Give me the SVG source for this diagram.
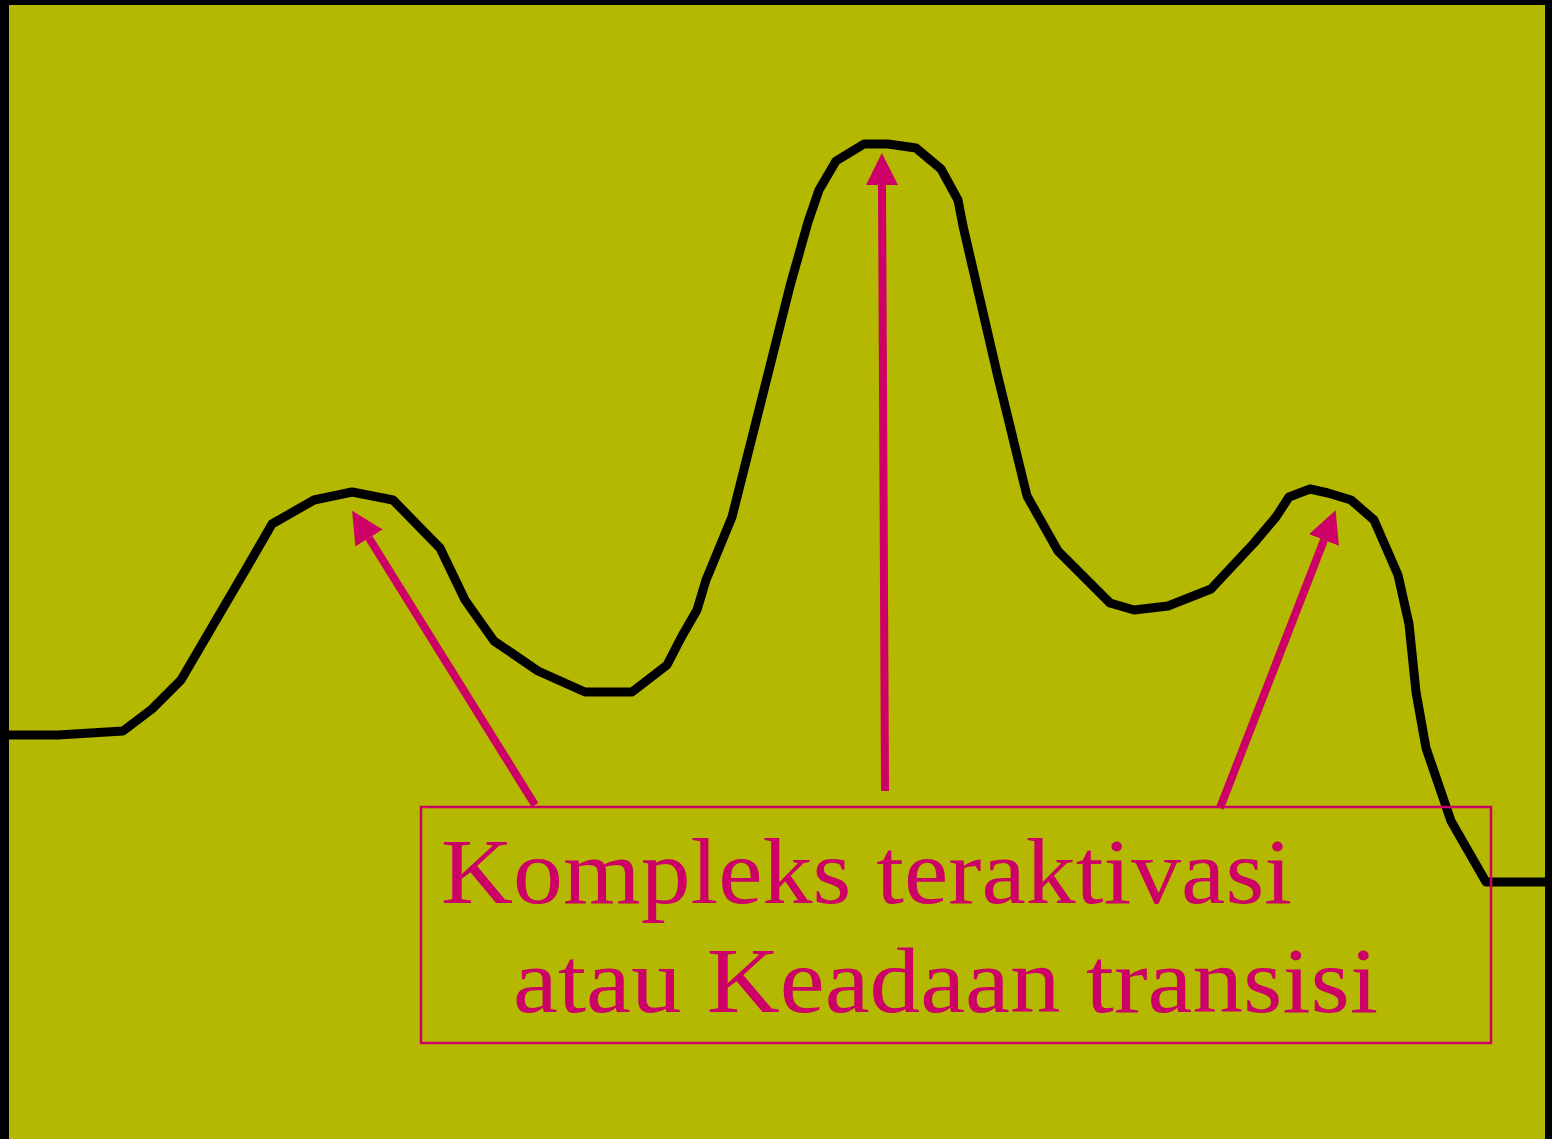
<svg xmlns="http://www.w3.org/2000/svg" width="1552" height="1139" viewBox="0 0 1552 1139">
<style>
.curve{fill:none;stroke:#000;stroke-width:9;stroke-linejoin:round}
.arr{stroke:#cc0066;stroke-width:8;fill:none}
.lbl{font-family:"Liberation Serif","DejaVu Serif",serif;font-size:94px;fill:#cc0066}
</style>
<defs>
<marker id="ah" markerUnits="userSpaceOnUse" markerWidth="32" markerHeight="32" viewBox="0 0 10 10" refX="0" refY="5" orient="auto">
<path d="M0,0 L10,5 L0,10 z" fill="#cc0066"/>
</marker>
</defs>
<rect x="0" y="0" width="1552" height="1139" fill="#000"/>
<rect x="9" y="5" width="1536" height="1134" fill="#b4b800"/>
<g id="curve">
<polyline class="curve" points="9,735 58,735 123,731 152,709 181,680 246,569 272,524 314,500 352,492 393,500 440,548 465,600 494,641 538,671 585,692 632,692 667,665 682,636 697,610 706,580 732,517 771,362 790,286 808,222 819,190 836,161 864,144 888,144 916,148 941,169 958,200 963,226 997,373 1027,496 1058,551 1110,603 1134,610 1168,606 1211,589 1254,543 1276,517 1289,497 1310,489 1328,493 1351,500 1374,520 1398,575 1409,624 1416,692 1426,748 1451,821 1486,882 1545,882"/>
</g>
<g id="connectors">
<line class="arr" x1="535" y1="805" x2="369" y2="538" marker-end="url(#ah)"/>
<line class="arr" x1="885" y1="791" x2="882" y2="185" marker-end="url(#ah)"/>
<line class="arr" x1="1220" y1="808" x2="1324" y2="540" marker-end="url(#ah)"/>
</g>
<g id="label">
<rect x="421" y="807" width="1070" height="236" fill="none" stroke="#cc0066" stroke-width="2.5"/>
<text class="lbl" x="441" y="903" textLength="851" lengthAdjust="spacingAndGlyphs">Kompleks teraktivasi</text>
<text class="lbl" x="513" y="1012" textLength="865" lengthAdjust="spacingAndGlyphs">atau Keadaan transisi</text>
</g>
</svg>
